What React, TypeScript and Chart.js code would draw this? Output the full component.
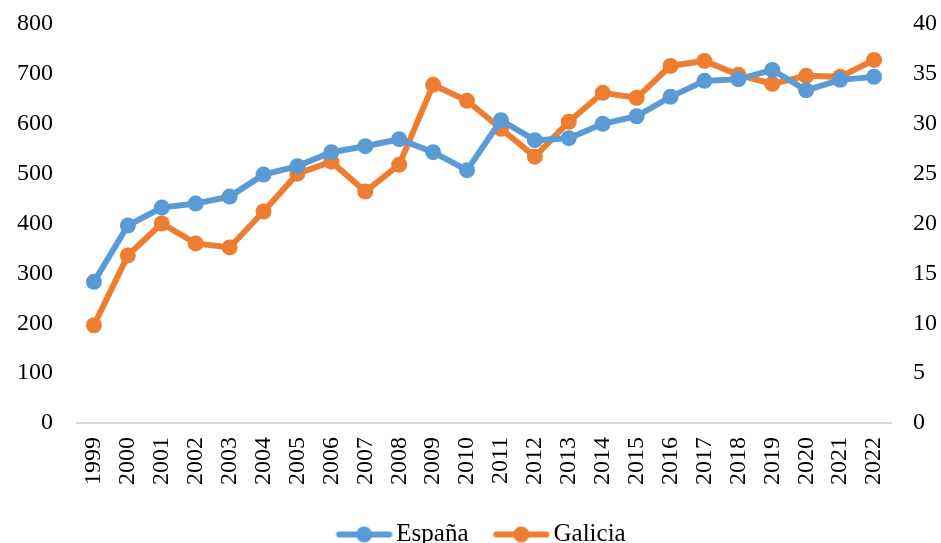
import React, { useEffect, useRef } from "react";
import { Chart, registerables } from "chart.js";

Chart.register(...registerables);

const years = ["1999","2000","2001","2002","2003","2004","2005","2006","2007","2008","2009","2010","2011","2012","2013","2014","2015","2016","2017","2018","2019","2020","2021","2022"];
const espana = [283, 396, 432, 440, 454, 498, 515, 543, 555, 569, 543, 507, 607, 567, 571, 600, 615, 654, 686, 689, 708, 667, 688, 694];
const galicia = [9.8, 16.8, 20.0, 18.0, 17.6, 21.2, 25.0, 26.2, 23.2, 25.9, 33.9, 32.3, 29.5, 26.7, 30.2, 33.1, 32.6, 35.8, 36.3, 34.9, 34.0, 34.8, 34.7, 36.4];
const leftTicks = [0, 100, 200, 300, 400, 500, 600, 700, 800];
const rightTicks = [0, 5, 10, 15, 20, 25, 30, 35, 40];

const BLUE = "#5B9BD5";
const ORANGE = "#ED7D31";
const FONT = "'Liberation Serif', 'DejaVu Serif', serif";

// legend geometry
const LEG_FONT = 25;
const LEG_PAD = 4;
const LINE_LEN = 56;
const GAP_BEFORE = 25; // gap from previous text to line start
const GAP_AFTER = 4; // gap from line end to text
const lineStart = GAP_BEFORE - LEG_PAD; // relative to item x
const textStart = lineStart + LINE_LEN + GAP_AFTER;
const BOX_W = textStart - LEG_FONT / 2;
const imgHalf = lineStart + LINE_LEN - BOX_W / 2;
const IMG_W = imgHalf * 2;
const imgLeft = BOX_W / 2 - imgHalf; // relative to item x

function legendIcon(color: string): HTMLCanvasElement {
  const c = document.createElement("canvas");
  c.width = Math.round(IMG_W);
  c.height = 18;
  const ctx = c.getContext("2d")!;
  const s = lineStart - imgLeft;
  ctx.strokeStyle = color;
  ctx.lineWidth = 6;
  ctx.lineCap = "round";
  ctx.beginPath();
  ctx.moveTo(s + 3, 9);
  ctx.lineTo(s + LINE_LEN - 3, 9);
  ctx.stroke();
  ctx.fillStyle = color;
  ctx.beginPath();
  ctx.arc(s + LINE_LEN / 2, 9, 8, 0, Math.PI * 2);
  ctx.fill();
  return c;
}

const fitY = (w: number) => (s: any) => {
  s.width = w;
  s.paddingTop = 0;
  s.paddingBottom = 0;
};

export default function App() {
  const ref = useRef<HTMLCanvasElement>(null);
  useEffect(() => {
    document.body.style.margin = "0";
    const icons = [legendIcon(BLUE), legendIcon(ORANGE)];
    const chart = new Chart(ref.current!, {
      type: "line",
      data: {
        labels: years,
        datasets: [
          {
            label: "España",
            data: espana,
            yAxisID: "y",
            borderColor: BLUE,
            backgroundColor: BLUE,
            borderWidth: 6,
            pointRadius: 8,
            pointBorderWidth: 0,
            pointStyle: "circle",
            tension: 0,
          },
          {
            label: "Galicia",
            data: galicia,
            yAxisID: "y1",
            borderColor: ORANGE,
            backgroundColor: ORANGE,
            borderWidth: 6,
            pointRadius: 8,
            pointBorderWidth: 0,
            pointStyle: "circle",
            tension: 0,
          },
        ],
      },
      options: {
        animation: false,
        responsive: false,
        maintainAspectRatio: false,
        layout: { padding: { left: 0, right: 0, top: 24, bottom: -14 } },
        plugins: {
          tooltip: { enabled: false },
          legend: {
            position: "bottom",
            labels: {
              usePointStyle: true,
              pointStyleWidth: BOX_W,
              padding: LEG_PAD,
              color: "#000",
              font: { family: FONT, size: LEG_FONT },
              generateLabels: (ch: any) =>
                ch.data.datasets.map((ds: any, i: number) => ({
                  text: ds.label,
                  fillStyle: ds.borderColor,
                  strokeStyle: ds.borderColor,
                  lineWidth: 0,
                  pointStyle: icons[i],
                  datasetIndex: i,
                  hidden: false,
                  fontColor: "#000",
                })),
            },
          },
        },
        scales: {
          x: {
            offset: true,
            grid: { display: false, drawTicks: false },
            border: { display: true, color: "#D9D9D9", width: 2 },
            afterFit: (s: any) => {
              s.height = 95;
            },
            ticks: {
              color: "#000",
              font: { family: FONT, size: 24 },
              minRotation: 90,
              maxRotation: 90,
              padding: 14,
              autoSkip: false,
            },
          },
          y: {
            position: "left",
            min: 0,
            max: 800,
            afterBuildTicks: (s: any) => {
              s.ticks = leftTicks.map((v) => ({ value: v }));
            },
            afterFit: fitY(77),
            grid: { display: false, drawTicks: false },
            border: { display: false },
            ticks: {
              color: "#000",
              font: { family: FONT, size: 24 },
              padding: 24,
            },
          },
          y1: {
            position: "right",
            min: 0,
            max: 40,
            afterBuildTicks: (s: any) => {
              s.ticks = rightTicks.map((v) => ({ value: v }));
            },
            afterFit: fitY(50),
            grid: { display: false, drawTicks: false },
            border: { display: false },
            ticks: {
              color: "#000",
              font: { family: FONT, size: 24 },
              padding: 22,
            },
          },
        },
      },
    });
    return () => chart.destroy();
  }, []);
  return (
    <div style={{ width: 941, height: 543 }}>
      <canvas ref={ref} width={941} height={543} style={{ display: "block" }} />
    </div>
  );
}
